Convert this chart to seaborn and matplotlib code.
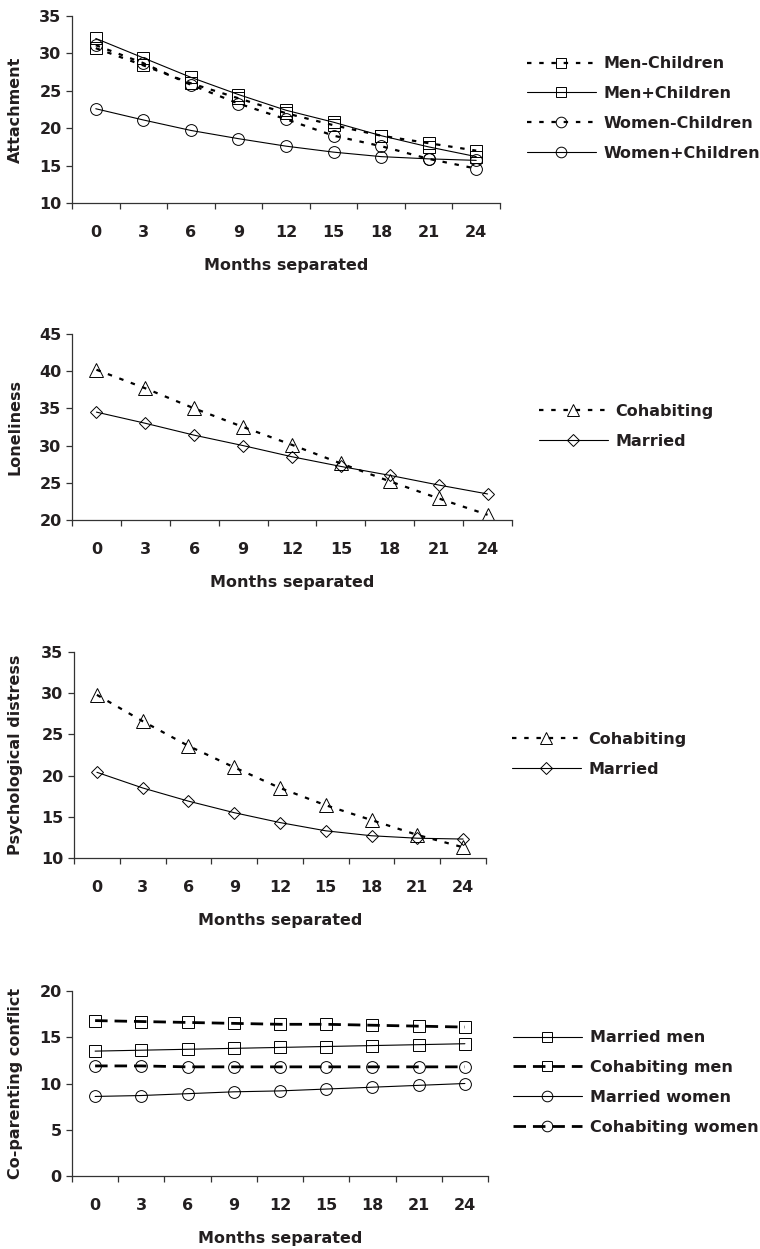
import numpy as np
import pandas as pd
import matplotlib
matplotlib.use('Agg')
import matplotlib.pyplot as plt
import seaborn as sns

sns.set_style('ticks')
plt.rcParams['font.family'] = ['DejaVu Sans']
plt.rcParams['font.weight'] = 'bold'
plt.rcParams['axes.labelweight'] = 'bold'

months = [0, 3, 6, 9, 12, 15, 18, 21, 24]

# Attachment
att_men_nochild = [30.7, 28.4, 26.0, 24.0, 22.0, 20.4, 19.0, 18.0, 17.0]
att_men_child = [32.0, 29.4, 26.8, 24.5, 22.4, 20.8, 19.0, 17.5, 16.2]
att_women_nochild = [31.1, 28.7, 25.8, 23.3, 21.2, 19.0, 17.6, 15.9, 14.6]
att_women_child = [22.6, 21.1, 19.7, 18.6, 17.6, 16.8, 16.2, 15.9, 15.7]

# Loneliness
lon_cohab = [40.2, 37.7, 35.0, 32.5, 30.1, 27.6, 25.2, 22.9, 20.7]
lon_married = [34.5, 33.0, 31.4, 30.0, 28.5, 27.2, 26.0, 24.7, 23.5]

# Psychological distress
psy_cohab = [29.8, 26.6, 23.6, 21.0, 18.5, 16.4, 14.6, 12.8, 11.3]
psy_married = [20.4, 18.5, 16.9, 15.5, 14.3, 13.3, 12.7, 12.4, 12.3]

# Co-parenting conflict
cop_married_men = [13.5, 13.6, 13.7, 13.8, 13.9, 14.0, 14.1, 14.2, 14.3]
cop_cohab_men = [16.8, 16.7, 16.6, 16.5, 16.4, 16.4, 16.3, 16.2, 16.1]
cop_married_women = [8.6, 8.7, 8.9, 9.1, 9.2, 9.4, 9.6, 9.8, 10.0]
cop_cohab_women = [11.9, 11.9, 11.8, 11.8, 11.8, 11.8, 11.8, 11.8, 11.8]

DOT = (0, (2, 3.5))
DASH = (0, (4.5, 2.5))
ink = '#231f20'
FS = 11.5

panels = [
    dict(rect=[72, 16, 500, 203], ylabel='Attachment', ylim=(10, 35), ystep=5,
         legend_xy=(527, 108.5),
         series=[('Men-Children', att_men_nochild, DOT, 's', 1.6),
                 ('Men+Children', att_men_child, '-', 's', 0.8),
                 ('Women-Children', att_women_nochild, DOT, 'o', 1.6),
                 ('Women+Children', att_women_child, '-', 'o', 0.8)]),
    dict(rect=[72, 334, 512, 520], ylabel='Loneliness', ylim=(20, 45), ystep=5,
         legend_xy=(539, 426.5),
         series=[('Cohabiting', lon_cohab, DOT, '^', 1.6),
                 ('Married', lon_married, '-', 'D', 0.8)]),
    dict(rect=[74, 652, 486, 858], ylabel='Psychological distress', ylim=(10, 35), ystep=5,
         legend_xy=(512, 754.5),
         series=[('Cohabiting', psy_cohab, DOT, '^', 1.6),
                 ('Married', psy_married, '-', 'D', 0.8)]),
    dict(rect=[72, 991, 488, 1176], ylabel='Co-parenting conflict', ylim=(0, 20), ystep=5,
         legend_xy=(513, 1082.5),
         series=[('Married men', cop_married_men, '-', 's', 0.8),
                 ('Cohabiting men', cop_cohab_men, DASH, 's', 2.0),
                 ('Married women', cop_married_women, '-', 'o', 0.8),
                 ('Cohabiting women', cop_cohab_women, DASH, 'o', 2.0)]),
]

W, H = 760, 1249
fig = plt.figure(figsize=(W / 100, H / 100), dpi=100)

msize = {'s': 8.5, 'o': 8.5, '^': 9.5, 'D': 6.5}

for p in panels:
    x0, y0, x1, y1 = p['rect']
    ax = fig.add_axes([x0 / W, 1 - y1 / H, (x1 - x0) / W, (y1 - y0) / H])
    for label, vals, ls, mk, lw in p['series']:
        df = pd.DataFrame({'month': months, 'value': vals})
        sns.lineplot(data=df, x='month', y='value', ax=ax, label=label,
                     color='black', linestyle=ls, linewidth=lw, marker=mk,
                     markersize=msize[mk], markerfacecolor='none',
                     markeredgecolor='black', markeredgewidth=0.7)
    lo, hi = p['ylim']
    ax.set_ylim(lo, hi)
    ax.set_yticks(np.arange(lo, hi + 0.1, p['ystep']))
    ax.set_xlim(-1.5, 25.5)
    ax.set_xticks(months)
    ax.set_xticks(np.arange(-1.5, 26, 3), minor=True)
    ax.tick_params(axis='x', which='major', length=0, pad=16, labelsize=FS, labelcolor=ink)
    ax.tick_params(axis='x', which='minor', length=4.5, width=0.9, color='#333333')
    ax.tick_params(axis='y', which='major', length=4.5, width=0.9, color='#333333',
                   pad=3, labelsize=FS, labelcolor=ink)
    for s in ['top', 'right']:
        ax.spines[s].set_visible(False)
    for s in ['left', 'bottom']:
        ax.spines[s].set_color('#333333')
        ax.spines[s].set_linewidth(0.9)
    ax.set_xlabel('Months separated', fontsize=FS, color=ink)
    ax.xaxis.set_label_coords(0.5, -55 / (y1 - y0))
    ax.set_ylabel(p['ylabel'], fontsize=FS, color=ink)
    ax.yaxis.set_label_coords(-(x0 - 23) / (x1 - x0), 0.5)

    lx, ly = p['legend_xy']
    ax.legend(loc='center left', bbox_to_anchor=(lx / W, 1 - ly / H),
              bbox_transform=fig.transFigure, frameon=False, borderpad=0,
              borderaxespad=0, handlelength=4.3, handletextpad=0.5,
              labelspacing=0.93, markerscale=0.9, numpoints=1,
              prop={'size': FS, 'weight': 'bold'}, labelcolor=ink)

fig.savefig('out.png', dpi=100, facecolor='white')
